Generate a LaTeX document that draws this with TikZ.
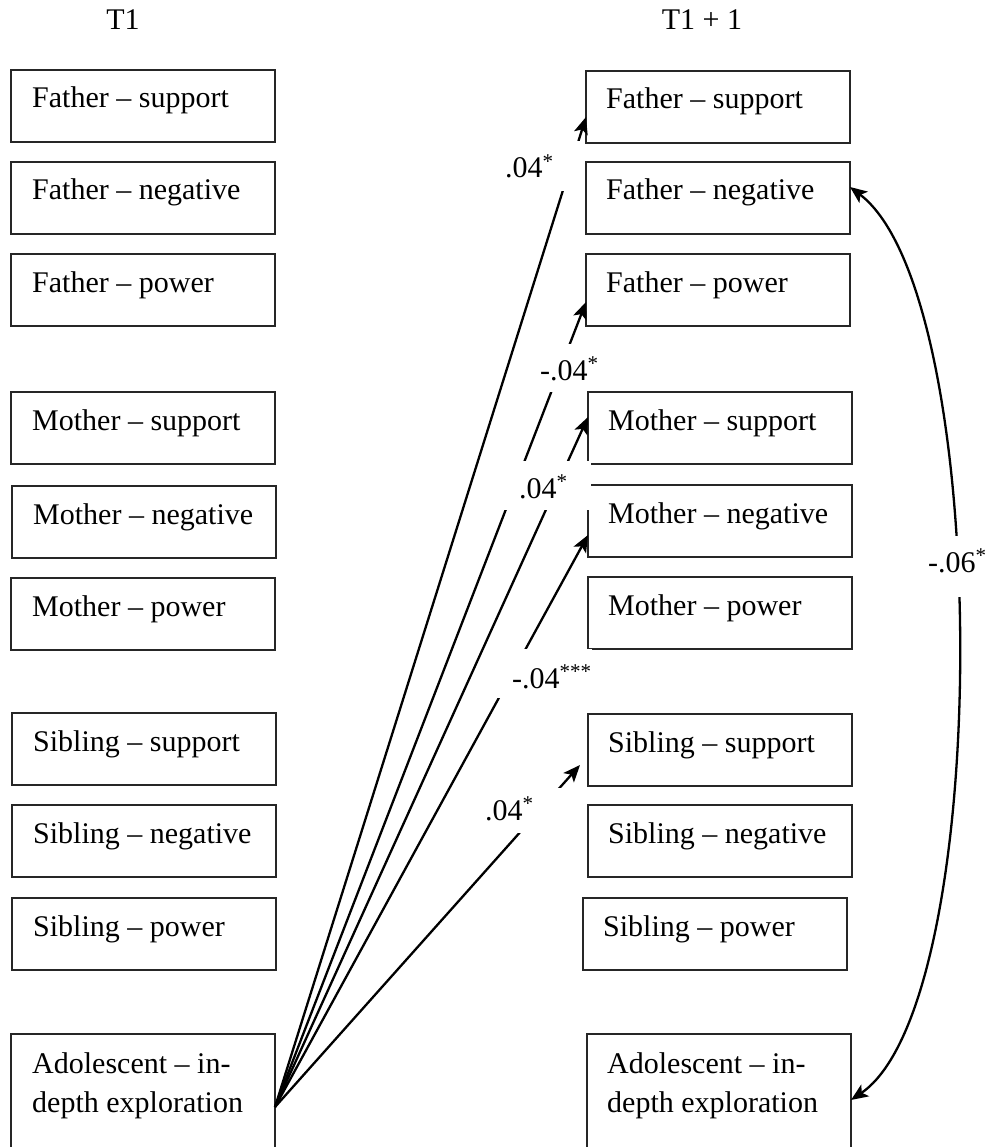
\documentclass[tikz,border=0pt]{standalone}
\usepackage{fontspec}
\setmainfont{Liberation Serif}
\usetikzlibrary{arrows.meta}
\begin{document}
\begin{tikzpicture}[x=1pt,y=-1pt,
  box/.style={draw=black!85,line width=2pt,minimum width=264pt,minimum height=72pt,anchor=north west,outer sep=0pt,inner sep=0pt},
  bt/.style={anchor=base west,inner sep=0pt,font=\fontsize{30}{39}\selectfont},
  lab/.style={anchor=base west,inner sep=0pt,font=\fontsize{30}{36}\selectfont},
  hd/.style={anchor=base,inner sep=0pt,font=\fontsize{30}{36}\selectfont},
  conn/.style={line width=2.3pt,-{Stealth[length=17pt,width=14pt,inset=4pt]}},
  gap/.style={white},
]
\useasboundingbox (0,0) rectangle (984,1147);

% headers
\node[hd] (h1) at (123,30) {T1};
\node[hd] (h2) at (702,30) {T1 + 1};

% left column
\node[box] (L1) at (11,70) {};
\node[box] (L2) at (11,162) {};
\node[box] (L3) at (11,254) {};
\node[box] (L4) at (11,392) {};
\node[box] (L5) at (12,486) {};
\node[box] (L6) at (11,578) {};
\node[box] (L7) at (12,713) {};
\node[box] (L8) at (12,805) {};
\node[box] (L9) at (12,898) {};
\node[box,minimum height=125pt] (LA) at (11,1034) {};

\node[bt] (tL1) at ([shift={(21,38)}]L1.north west) {Father – support};
\node[bt] (tL2) at ([shift={(21,38)}]L2.north west) {Father – negative};
\node[bt] (tL3) at ([shift={(21,38)}]L3.north west) {Father – power};
\node[bt] (tL4) at ([shift={(21,38)}]L4.north west) {Mother – support};
\node[bt] (tL5) at ([shift={(21,38)}]L5.north west) {Mother – negative};
\node[bt] (tL6) at ([shift={(21,38)}]L6.north west) {Mother – power};
\node[bt] (tL7) at ([shift={(21,38)}]L7.north west) {Sibling – support};
\node[bt] (tL8) at ([shift={(21,38)}]L8.north west) {Sibling – negative};
\node[bt] (tL9) at ([shift={(21,38)}]L9.north west) {Sibling – power};
\node[bt] (tLA1) at ([shift={(21,39)}]LA.north west) {Adolescent – in-};
\node[bt] (tLA2) at ([shift={(21,78)}]LA.north west) {depth exploration};

% right column
\node[box] (R1) at (586,71) {};
\node[box] (R2) at (586,162) {};
\node[box] (R3) at (586,254) {};
\node[box] (R4) at (588,392) {};
\node[box] (R5) at (588,485) {};
\node[box] (R6) at (588,577) {};
\node[box] (R7) at (588,714) {};
\node[box] (R8) at (588,805) {};
\node[box] (R9) at (583,898) {};
\node[box,minimum height=125pt] (RA) at (587,1034) {};

\node[bt] (tR1) at ([shift={(20,38)}]R1.north west) {Father – support};
\node[bt] (tR2) at ([shift={(20,38)}]R2.north west) {Father – negative};
\node[bt] (tR3) at ([shift={(20,38)}]R3.north west) {Father – power};
\node[bt] (tR4) at ([shift={(20,38)}]R4.north west) {Mother – support};
\node[bt] (tR5) at ([shift={(20,38)}]R5.north west) {Mother – negative};
\node[bt] (tR6) at ([shift={(20,38)}]R6.north west) {Mother – power};
\node[bt] (tR7) at ([shift={(20,38)}]R7.north west) {Sibling – support};
\node[bt] (tR8) at ([shift={(20,38)}]R8.north west) {Sibling – negative};
\node[bt] (tR9) at ([shift={(20,38)}]R9.north west) {Sibling – power};
\node[bt] (tRA1) at ([shift={(20,39)}]RA.north west) {Adolescent – in-};
\node[bt] (tRA2) at ([shift={(20,78)}]RA.north west) {depth exploration};

% connectors
\coordinate (src) at ([yshift=-73pt]LA.north east);
\draw[conn] (src) -- ([yshift=-46pt]R1.north west);
\draw[conn] (src) -- ([yshift=-48pt]R3.north west);
\draw[conn] (src) -- ([yshift=-25pt]R4.north west);
\draw[conn] (src) -- ([yshift=-50pt]R5.north west);
\draw[conn] (src) -- ([shift={(-8pt,-51pt)}]R7.north west);
\draw[line width=2.3pt,{Stealth[length=17pt,width=14pt,inset=4pt]}-{Stealth[length=17pt,width=14pt,inset=4pt]}]
  ([yshift=-25pt]R2.north east) .. controls +(143,108) and +(143,-97) .. ([yshift=-66pt]RA.north east);

% white gaps behind labels
\fill[gap] (495,141) rectangle (582,191);
\fill[gap] (530,344) rectangle (585,392);
\fill[gap] (495,461) rectangle (591,510);
\fill[gap] (495,649) rectangle (592,698);
\fill[gap] (478,788) rectangle (575,833);
\fill[gap] (915,536) rectangle (984,597);

% labels
\node[lab] (l1) at (505,178) {.04\textsuperscript{*}};
\node[lab] (l2) at (540,380) {-.04\textsuperscript{*}};
\node[lab] (l3) at (519,498) {.04\textsuperscript{*}};
\node[lab] (l4) at (512,688) {-.04\textsuperscript{***}};
\node[lab] (l5) at (485,820) {.04\textsuperscript{*}};
\node[lab] (l6) at (928,572) {-.06\textsuperscript{*}};
\end{tikzpicture}
\end{document}
